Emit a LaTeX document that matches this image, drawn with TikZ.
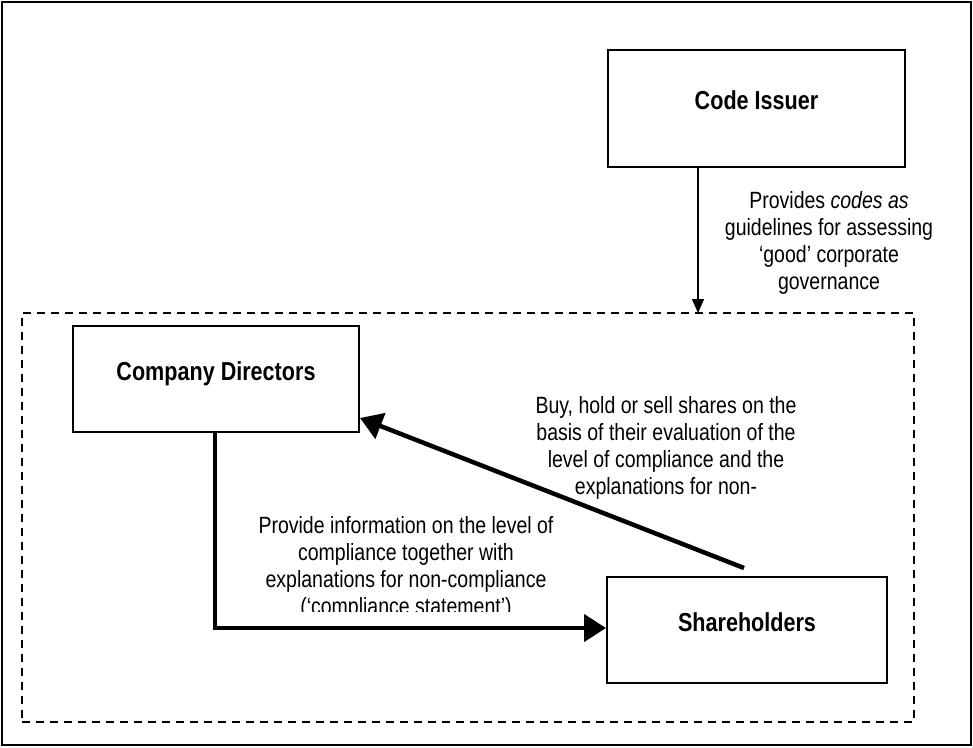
\documentclass[tikz,border=0pt]{standalone}
\usepackage{fontspec}
\setmainfont[FakeStretch=0.83]{Liberation Sans}
\usetikzlibrary{arrows.meta}
\begin{document}
\begin{tikzpicture}[x=1pt,y=-1pt,
  box/.style={draw, line width=2pt, inner sep=0pt,
    font=\fontsize{26}{30}\selectfont\bfseries, text height=19pt, text depth=17pt},
  lbl/.style={inner sep=0pt, align=center, font=\fontsize{23.5}{27}\selectfont},
  thinarrow/.style={line width=1.5pt, -{Triangle[length=14pt,width=12pt]}},
  thickarrow/.style={line width=4.5pt, -{Triangle[length=22pt,width=27pt]}},
  frame/.style={draw, line width=2pt, inner sep=0pt},
  groupbox/.style={draw, line width=2pt, dash pattern=on 8pt off 6pt, inner sep=0pt}
]
\useasboundingbox (0,0) rectangle (973,747);
\node[frame, minimum width=969pt, minimum height=743pt] (outer) at (486.5,373.5) {};
\node[groupbox, minimum width=892pt, minimum height=409pt] (group) at (468,517.5) {};

\node[box, minimum width=297pt, minimum height=117pt] (issuer) at (756.5,108.5) {Code Issuer};
\node[box, minimum width=286pt, minimum height=106pt] (dir) at (216,379) {Company Directors};
\node[box, minimum width=280pt, minimum height=106pt] (share) at (747,630) {Shareholders};

\node[lbl] (codelbl) at (829,242.5) {Provides \textit{codes as}\\guidelines for assessing\\‘good’ corporate\\governance};
\node[lbl] (buylbl) at (666,447.5) {Buy, hold or sell shares on the\\basis of their evaluation of the\\level of compliance and the\\explanations for non-};
\begin{scope}
  \clip (0,0) rectangle (973,611);
  \node[lbl] (provlbl) at (406,567.5) {Provide information on the level of\\compliance together with\\explanations for non-compliance\\(‘compliance statement’)};
\end{scope}

\coordinate (cin) at (698,313);
\draw[thinarrow] (cin |- issuer.south) -- (cin);

\coordinate (elb) at (215,628);
\draw[thickarrow] (elb |- dir.south) -- (elb) -- (elb -| share.west);

\coordinate (dstart) at (744,568);
\coordinate (dend) at (360,418);
\draw[thickarrow] (dstart) -- (dend);
\end{tikzpicture}
\end{document}
